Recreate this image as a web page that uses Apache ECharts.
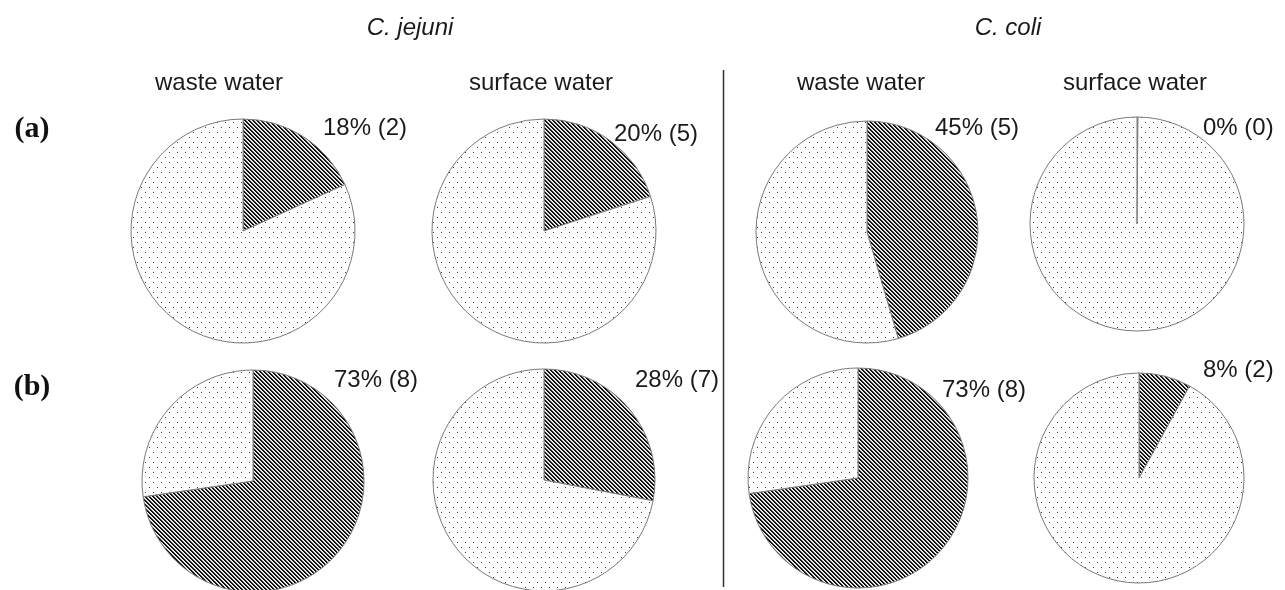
<!DOCTYPE html>
<html>
<head>
<meta charset="utf-8">
<script src="https://cdn.jsdelivr.net/npm/echarts@6/dist/echarts.min.js"></script>
<style>
  html, body { margin: 0; padding: 0; background: #fff; }
  #chart { width: 1285px; height: 590px; }
</style>
</head>
<body>
<div id="chart"></div>
<script>
// Positive isolates and sample totals, per panel, in column order:
// C. jejuni waste water, C. jejuni surface water, C. coli waste water, C. coli surface water
const panelLabels = ['(a)', '(b)'];
const speciesNames = ['C. jejuni', 'C. coli'];
const sourceNames = ['waste water', 'surface water'];
const positiveA = [2, 5, 5, 0];
const totalA = [11, 25, 11, 25];
const positiveB = [8, 7, 8, 2];
const totalB = [11, 25, 11, 25];

// Layout: pie centres / radii and label anchors, row (a) then row (b)
const pieLayout = [
  [[243, 231, 112], [544, 231, 112], [867, 232, 111], [1137, 224, 107]],
  [[253, 481, 111], [544, 480, 111], [858, 478, 110], [1139, 478, 105]]
];
const labelPos = [
  [[323, 128], [614, 134], [935, 128], [1203, 128]],
  [[334, 380], [635, 380], [942, 390], [1203, 370]]
];

// Fill patterns: dense diagonal hatch and sparse dot screen
function hatchPattern() {
  const c = document.createElement('canvas');
  c.width = 4; c.height = 4;
  const ctx = c.getContext('2d');
  const img = ctx.createImageData(4, 4);
  for (let y = 0; y < 4; y++) {
    for (let x = 0; x < 4; x++) {
      const k = ((x - y) % 4 + 4) % 4;
      const v = k < 2 ? 20 : (k === 2 ? 200 : 255);
      const i = (y * 4 + x) * 4;
      img.data[i] = img.data[i + 1] = img.data[i + 2] = v;
      img.data[i + 3] = 255;
    }
  }
  ctx.putImageData(img, 0, 0);
  return c;
}
function dotPattern() {
  const c = document.createElement('canvas');
  c.width = 8; c.height = 10;
  const ctx = c.getContext('2d');
  ctx.fillStyle = '#fff';
  ctx.fillRect(0, 0, 8, 10);
  ctx.fillStyle = '#3a3a3a';
  ctx.fillRect(1, 2, 1, 1);
  ctx.fillRect(5, 7, 1, 1);
  return c;
}
const hatchFill = { image: hatchPattern(), repeat: 'repeat' };
const dotFill = { image: dotPattern(), repeat: 'repeat' };

const rows = [[positiveA, totalA], [positiveB, totalB]];
const series = [];
const graphics = [];

rows.forEach(([pos, tot], r) => {
  pos.forEach((p, i) => {
    const [cx, cy, rad] = pieLayout[r][i];
    series.push({
      type: 'pie',
      center: [cx, cy],
      radius: [0, rad],
      startAngle: 90,
      clockwise: true,
      // keeps an empty slice visible as a single radial edge
      minAngle: 0.5,
      avoidLabelOverlap: false,
      silent: true,
      animation: false,
      label: { show: false },
      labelLine: { show: false },
      itemStyle: { borderColor: '#7a7a7a', borderWidth: 1 },
      data: [
        { name: 'positive', value: p, itemStyle: { color: hatchFill } },
        { name: 'negative', value: tot[i] - p, itemStyle: { color: dotFill } }
      ]
    });
    const pct = Math.round(p / tot[i] * 100);
    graphics.push({
      type: 'text',
      x: labelPos[r][i][0], y: labelPos[r][i][1],
      style: {
        text: pct + '% (' + p + ')',
        font: '24px "Liberation Sans", Arial, sans-serif',
        fill: '#1a1a1a',
        verticalAlign: 'middle',
        align: 'left'
      }
    });
  });
});

// Species headings
[[410, 28], [1008, 28]].forEach((pt, k) => {
  graphics.push({
    type: 'text', x: pt[0], y: pt[1],
    style: {
      text: speciesNames[k],
      font: 'italic 24px "Liberation Sans", Arial, sans-serif',
      fill: '#1a1a1a', align: 'center', verticalAlign: 'middle'
    }
  });
});
// Source headings
[219, 541, 861, 1135].forEach((x, k) => {
  graphics.push({
    type: 'text', x: x, y: 83,
    style: {
      text: sourceNames[k % 2],
      font: '24px "Liberation Sans", Arial, sans-serif',
      fill: '#1a1a1a', align: 'center', verticalAlign: 'middle'
    }
  });
});
// Panel letters
[129, 387].forEach((y, k) => {
  graphics.push({
    type: 'text', x: 32, y: y,
    style: {
      text: panelLabels[k],
      font: 'bold 30px "Liberation Serif", "Times New Roman", serif',
      fill: '#111', align: 'center', verticalAlign: 'middle'
    }
  });
});
// Divider between species
graphics.push({
  type: 'line',
  shape: { x1: 723.5, y1: 70, x2: 723.5, y2: 587 },
  style: { stroke: '#333', lineWidth: 1.5 }
});

const chart = echarts.init(document.getElementById('chart'), null, { renderer: 'canvas' });
chart.setOption({
  backgroundColor: '#fff',
  animation: false,
  series: series,
  graphic: graphics
});
</script>
</body>
</html>
